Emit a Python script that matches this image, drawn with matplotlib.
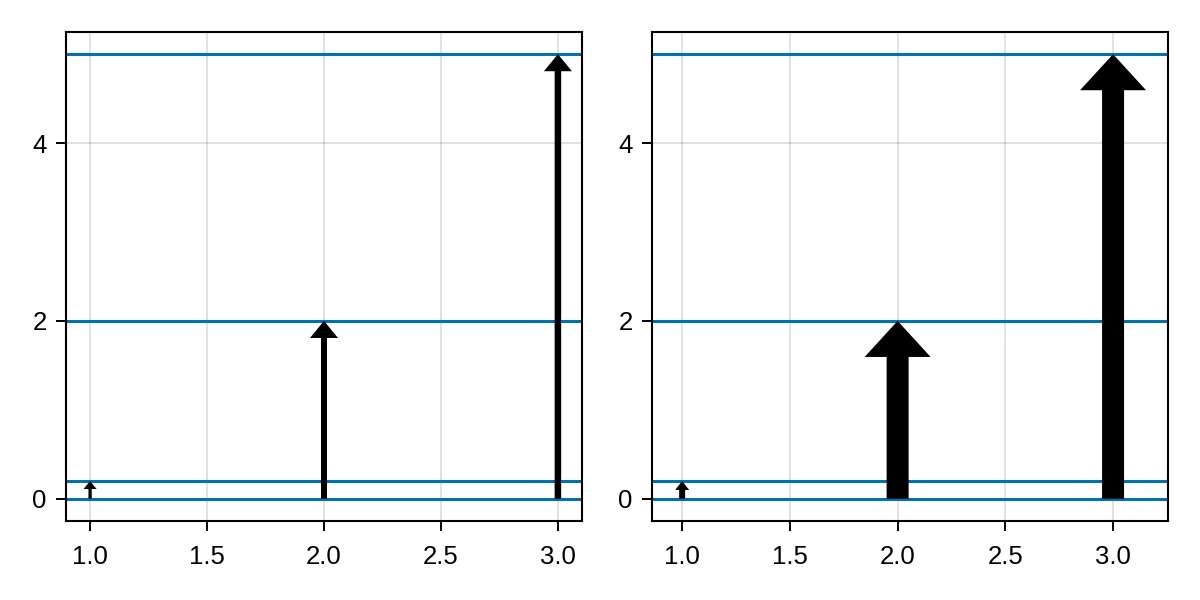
import matplotlib
matplotlib.use('Agg')
import matplotlib.pyplot as plt

# data
arrowX = [1, 2, 3]
arrowY0 = [0, 0, 0]
arrowLen = [0.2, 2, 5]
hLines = [0, 0.2, 2, 5]
xTicks = [1.0, 1.5, 2.0, 2.5, 3.0]
yTicks = [0, 2, 4]

# arrow sizes in pixels (shaft width, tip width, tip length) per panel
leftShaft = [3.3, 6, 6.5]
leftTipW = [13, 28, 28]
leftTipL = [8, 17, 17]
rightShaft = [6, 22, 22]
rightTipW = [14, 66, 66]
rightTipL = [9, 36, 36]

blue = '#0072B2'
plt.rcParams['font.family'] = ['Liberation Sans', 'DejaVu Sans']
plt.rcParams['font.size'] = 18.5

fig = plt.figure(figsize=(12, 6), dpi=100)
W, H = 1200, 600
axL = fig.add_axes([66/W, 79/H, 516/W, 489/H])
axR = fig.add_axes([652/W, 79/H, 516/W, 489/H])


def setup(ax, xlim):
    ax.set_xlim(*xlim)
    ax.set_ylim(-0.25, 5.25)
    ax.set_xticks(xTicks)
    ax.set_xticklabels(['%.1f' % t for t in xTicks])
    ax.set_yticks(yTicks)
    ax.grid(True, color='black', alpha=0.12, linewidth=1.4, zorder=0)
    ax.set_axisbelow(True)
    for s in ax.spines.values():
        s.set_linewidth(1.5)
    ax.tick_params(direction='out', length=7, width=1.4, pad=7)
    ax.tick_params(axis='x', pad=10)
    for y in hLines:
        ax.axhline(y, color=blue, linewidth=2.2, zorder=2)


def draw_arrows(ax, shaft, tipw, tipl):
    x0, x1 = ax.get_xlim()
    y0, y1 = ax.get_ylim()
    bbox = ax.get_position()
    pxX = bbox.width * W / (x1 - x0)
    pxY = bbox.height * H / (y1 - y0)
    for i in range(len(arrowX)):
        ax.arrow(arrowX[i], arrowY0[i], 0, arrowLen[i],
                 width=shaft[i] / pxX, head_width=tipw[i] / pxX,
                 head_length=tipl[i] / pxY, length_includes_head=True,
                 fc='black', ec='none', zorder=3)


setup(axL, (0.897, 3.103))
draw_arrows(axL, leftShaft, leftTipW, leftTipL)
setup(axR, (0.86, 3.255))
draw_arrows(axR, rightShaft, rightTipW, rightTipL)

fig.savefig('out.png', dpi=100)
